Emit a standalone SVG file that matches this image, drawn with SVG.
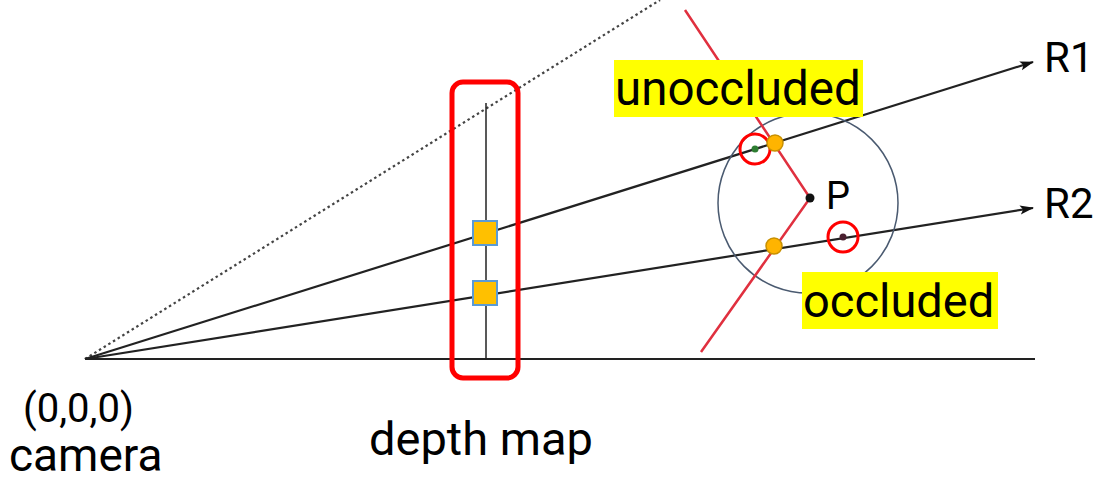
<svg xmlns="http://www.w3.org/2000/svg" width="1096" height="482" viewBox="0 0 1096 482">
<defs>
<marker id="arr" viewBox="0 0 14 10" refX="13" refY="5" markerWidth="14" markerHeight="10" orient="auto" markerUnits="userSpaceOnUse"><path d="M0,0.5 L14,5 L0,9.5 L3,5 Z" fill="#111"/></marker>
<style>
.ray{stroke:#222;stroke-width:2.2;fill:none}
.lbl{font-family:Roboto,"Liberation Sans",sans-serif;fill:#000}
.hl{fill:#ffff00}
.sq{fill:#ffc000;stroke:#5b9bd5;stroke-width:2}
.od{fill:#ffb400;stroke:#c89000;stroke-width:1.5}
.rc{fill:none;stroke:#ff0000;stroke-width:3}
</style>
</defs>
<rect width="1096" height="482" fill="#fff"/>
<g id="connectors">
<line x1="85" y1="359" x2="660" y2="0" stroke="#444" stroke-width="2.2" stroke-dasharray="2.5,3"/>
<line class="ray" x1="85" y1="359" x2="1035" y2="359" stroke="#444"/>
<line class="ray" x1="85" y1="359" x2="1033" y2="62" marker-end="url(#arr)"/>
<line class="ray" x1="85" y1="359" x2="1033" y2="208" marker-end="url(#arr)"/>
</g>
<g id="depth-map">
<line x1="486" y1="103" x2="486" y2="359" stroke="#222" stroke-width="1.5"/>
<rect x="452" y="82" width="66" height="296" rx="11" fill="none" stroke="#ff0000" stroke-width="5"/>
<rect class="sq" x="473" y="221" width="24" height="24"/>
<rect class="sq" x="473" y="281" width="24" height="24"/>
<text class="lbl" x="481" y="455" font-size="47" text-anchor="middle">depth map</text>
</g>
<g id="surface">
<circle cx="808" cy="203" r="90" fill="none" stroke="#4a5a70" stroke-width="1.5"/>
<polyline points="685,10 810,198 701,352" fill="none" stroke="#e0303f" stroke-width="2.5"/>
</g>
<g id="point-P">
<circle cx="810" cy="198" r="4.5" fill="#111"/>
<text class="lbl" x="826" y="209" font-size="38">P</text>
</g>
<g id="unoccluded">
<circle cx="755" cy="149" r="3.5" fill="#2e7d32"/>
<circle class="rc" cx="755" cy="149" r="15"/>
<circle class="od" cx="775" cy="143" r="8"/>
<rect class="hl" x="614" y="60" width="249" height="57"/>
<text class="lbl" x="615" y="105" font-size="47.5">unoccluded</text>
</g>
<g id="occluded">
<circle cx="843" cy="237" r="3.5" fill="#4a2030"/>
<circle class="rc" cx="843" cy="237" r="15"/>
<circle class="od" cx="774" cy="246" r="8"/>
<rect class="hl" x="802" y="272" width="196" height="57"/>
<text class="lbl" x="803" y="317" font-size="47">occluded</text>
</g>
<g id="labels">
<text class="lbl" x="1044" y="72" font-size="42">R1</text>
<text class="lbl" x="1044" y="218" font-size="42">R2</text>
<text class="lbl" x="23" y="422" font-size="40">(0,0,0)</text>
<text class="lbl" x="9" y="471" font-size="46">camera</text>
</g>
</svg>
